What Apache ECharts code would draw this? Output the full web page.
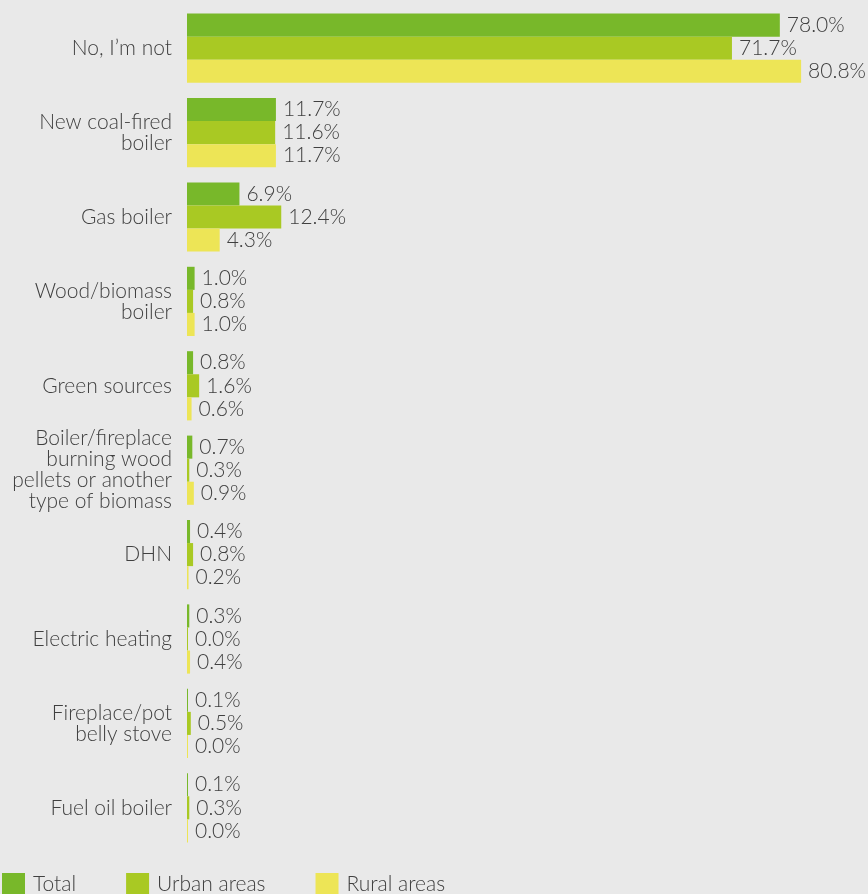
<!DOCTYPE html>
<html>
<head>
<meta charset="utf-8">
<script src="https://cdn.jsdelivr.net/npm/echarts@6/dist/echarts.min.js"></script>
<style>
  html, body { margin: 0; padding: 0; background: #e9e9e9; }
  #chart { width: 868px; height: 894px; }
</style>
</head>
<body>
<div id="chart"></div>
<script>
// Heating source answers, in percent
const categories = [
  'No, I’m not',
  'New coal-fired\nboiler',
  'Gas boiler',
  'Wood/biomass\nboiler',
  'Green sources',
  'Boiler/fireplace\nburning wood\npellets or another\ntype of biomass',
  'DHN',
  'Electric heating',
  'Fireplace/pot\nbelly stove',
  'Fuel oil boiler'
];
const seriesNames = ['Total', 'Urban areas', 'Rural areas'];
const totalValues = [78.0, 11.7, 6.9, 1.0, 0.8, 0.7, 0.4, 0.3, 0.1, 0.1];
const urbanValues = [71.7, 11.6, 12.4, 0.8, 1.6, 0.3, 0.8, 0.0, 0.5, 0.3];
const ruralValues = [80.8, 11.7, 4.3, 1.0, 0.6, 0.9, 0.2, 0.4, 0.0, 0.0];
const colors = ['#78b82a', '#a9c923', '#ede556'];

const FONT = 'Lato, "Open Sans", sans-serif';
const TEXT = '#404040';
const FONT_SIZE = 21;

const chart = echarts.init(document.getElementById('chart'), null, { renderer: 'canvas' });

function barSeries(name, values, color) {
  return {
    name: name,
    type: 'bar',
    data: values,
    barGap: '0%',
    barCategoryGap: '18%',
    barMinHeight: 1,
    itemStyle: { color: color },
    label: {
      show: true,
      position: 'right',
      distance: 7,
      color: TEXT,
      fontFamily: FONT,
      fontSize: FONT_SIZE,
      fontWeight: 300,
      formatter: p => p.value.toFixed(1) + '%'
    },
    emphasis: { disabled: true },
    animation: false
  };
}

chart.setOption({
  backgroundColor: '#e9e9e9',
  animation: false,
  legend: {
    left: 2,
    top: 873,
    padding: 0,
    itemWidth: 23,
    itemHeight: 23,
    itemGap: 50,
    icon: 'rect',
    data: seriesNames,
    textStyle: { color: TEXT, fontFamily: FONT, fontSize: FONT_SIZE, fontWeight: 300, padding: [2, 0, 0, 3] }
  },
  grid: { left: 187, top: 6, right: 0, height: 844, containLabel: false },
  xAxis: {
    type: 'value',
    min: 0,
    max: 89.6,
    show: false
  },
  yAxis: {
    type: 'category',
    data: categories,
    inverse: true,
    axisLine: { show: false },
    axisTick: { show: false },
    axisLabel: {
      margin: 15,
      color: TEXT,
      fontFamily: FONT,
      fontSize: FONT_SIZE,
      fontWeight: 300,
      lineHeight: 21,
      align: 'right'
    }
  },
  series: [
    barSeries(seriesNames[0], totalValues, colors[0]),
    barSeries(seriesNames[1], urbanValues, colors[1]),
    barSeries(seriesNames[2], ruralValues, colors[2])
  ]
});
</script>
</body>
</html>
